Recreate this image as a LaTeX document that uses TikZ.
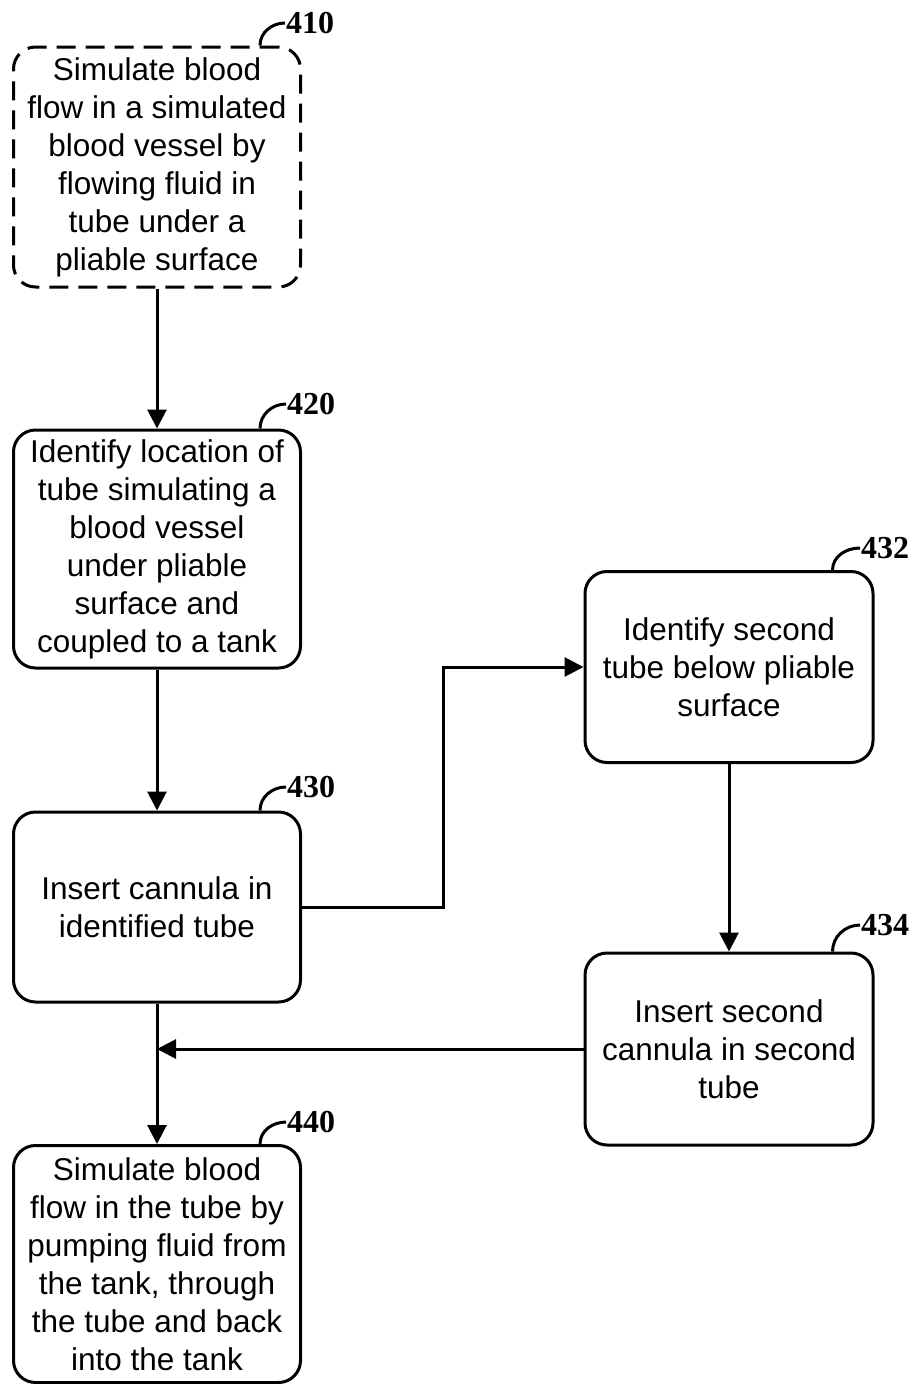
\documentclass[tikz,border=0pt]{standalone}
\usepackage{fontspec}
\setmainfont{Liberation Sans}
\newfontfamily\tagfont{Liberation Serif}
\usetikzlibrary{arrows.meta,positioning,calc}

\begin{document}
\begin{tikzpicture}[x=1pt,y=-1pt]
    \tikzset{
      stepbox/.style={rectangle, draw=black, rounded corners=22pt, line width=3pt,
        minimum width=287pt, inner sep=2pt, align=center,
        font=\fontsize{31.5}{38}\selectfont},
      optbox/.style={stepbox, dash pattern=on 19pt off 10pt},
      tag/.style={anchor=west, inner sep=1pt, font=\tagfont\bfseries\fontsize{32}{32}\selectfont},
      tick/.style={draw=black, line width=3pt},
      flow/.style={-{Triangle[length=19pt,width=19pt]}, draw=black, line width=3pt}
    }
    \useasboundingbox (0,0) rectangle (913,1384);
    \node[optbox, minimum height=240pt] (s410) at (157,167)
      {Simulate blood\\flow in a simulated\\blood vessel by\\flowing fluid in\\tube under a\\pliable surface};
    \node[stepbox, minimum height=238pt] (s420) at (157,549)
      {Identify location of\\tube simulating a\\blood vessel\\under pliable\\surface and\\coupled to a tank};
    \node[stepbox, minimum height=190pt] (s430) at (157,907)
      {Insert cannula in\\identified tube};
    \node[stepbox, minimum height=237pt] (s440) at (157,1264)
      {Simulate blood\\flow in the tube by\\pumping fluid from\\the tank, through\\the tube and back\\into the tank};
    \node[stepbox, minimum width=288pt, minimum height=191pt] (s432) at (729,667)
      {Identify second\\tube below pliable\\surface};
    \node[stepbox, minimum width=288pt, minimum height=192pt] (s434) at (729,1049)
      {Insert second\\cannula in second\\tube};
    % reference numerals
    \node[tag] (t410) at (285,23) {410};
    \node[tag] (t420) at (286,404) {420};
    \node[tag] (t430) at (286,787) {430};
    \node[tag] (t440) at (286,1122) {440};
    \node[tag] (t432) at (860,548) {432};
    \node[tag] (t434) at (860,925) {434};
    \foreach \b in {410,420,430,440,432,434}
      \draw[tick] ([xshift=-42pt]s\b.north east) to[out=90,in=180] (t\b.west);
    % connectors
    \coordinate (bend) at (443,907);
    \coordinate (join) at (s430.south |- s434.west);
    \foreach \a/\b in {s410/s420,s420/s430,s430/s440,s432/s434}
      \draw[flow] (\a) -- (\b);
    \draw[flow] (s430.east) -- (bend) |- (s432.west);
    \draw[flow] (s434.west) -- (join);
\end{tikzpicture}
\end{document}
